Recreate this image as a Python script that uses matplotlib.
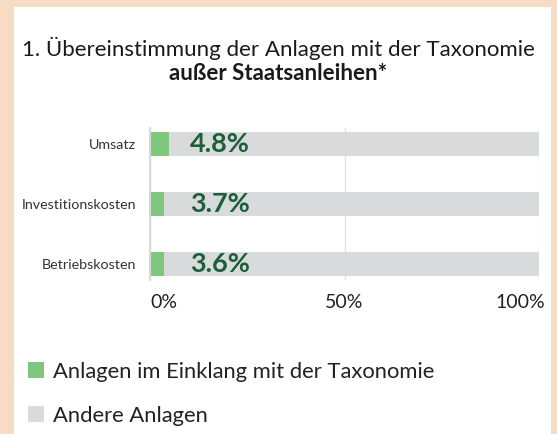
import matplotlib.pyplot as plt
from matplotlib.patches import Rectangle, Patch
from matplotlib.transforms import ScaledTranslation

plt.rcParams['font.family'] = ['Lato', 'DejaVu Sans']

categories = ['Umsatz', 'Investitionskosten', 'Betriebskosten']
aligned = [4.8, 3.7, 3.6]
other = [100 - v for v in aligned]
value_labels = ['4.8%', '3.7%', '3.6%']
xticks = [0, 50, 100]
xtick_labels = ['0%', '50%', '100%']

green = '#7dc77f'
grey = '#d9dadb'
dark_green = '#1d5e3b'

fig = plt.figure(figsize=(5.57, 4.34), dpi=100, facecolor='#f5dcc2')
fig.patches.append(Rectangle((14 / 557, 0), 537 / 557, 427 / 434,
                             transform=fig.transFigure, facecolor='white',
                             edgecolor='none', zorder=-5))

fig.text(0.5, 1 - 48 / 434, '1. Übereinstimmung der Anlagen mit der Taxonomie',
         ha='center', va='center', fontsize=16, color='#1a1a1a')
fig.text(0.5, 1 - 73 / 434, 'außer Staatsanleihen*', ha='center', va='center',
         fontsize=16, fontweight='bold', color='#1a1a1a')

ax = fig.add_axes([150 / 557, 1 - 280 / 434, 389 / 557, 152 / 434])
ax.set_facecolor('none')
y = range(len(categories))
ax.barh(y, aligned, height=0.4, color=green, zorder=2)
ax.barh(y, other, left=aligned, height=0.4, color=grey, zorder=2)
for i, lab in enumerate(value_labels):
    ax.text(10.3, i, lab, ha='left', va='center', fontsize=19.5,
            fontweight='bold', color=dark_green, zorder=3)

ax.set_ylim(2.267, -0.267)
ax.set_xlim(0, 100)
ax.set_yticks(list(y))
ax.set_yticklabels(categories, fontsize=10.3, color='#333333')
ax.set_xticks(xticks)
ax.set_xticklabels(xtick_labels, fontsize=14, color='#222222')
ax.tick_params(length=0)
ax.tick_params(axis='x', pad=10)
ax.tick_params(axis='y', pad=10)
xl = ax.get_xticklabels()
xl[0].set_ha('left')
xl[2].set_ha('right')
xl[2].set_transform(xl[2].get_transform() + ScaledTranslation(0.06, 0, fig.dpi_scale_trans))
for s in ['top', 'right', 'bottom']:
    ax.spines[s].set_visible(False)
ax.spines['left'].set_color('#d9d9d9')
ax.spines['left'].set_linewidth(1.5)
ax.grid(axis='x', color='#e3e3e3', linewidth=1, zorder=1)
ax.set_axisbelow(True)

handles = [Patch(facecolor=green, label='Anlagen im Einklang mit der Taxonomie'),
           Patch(facecolor=grey, label='Andere Anlagen')]
fig.legend(handles=handles, loc='upper left', bbox_to_anchor=(8 / 557, 1 - 342 / 434),
           frameon=False, fontsize=15.8, handlelength=0.75, handleheight=0.75,
           handletextpad=0.4, labelspacing=1.1, labelcolor='#222222')

fig.savefig('out.png', dpi=100, facecolor=fig.get_facecolor())
